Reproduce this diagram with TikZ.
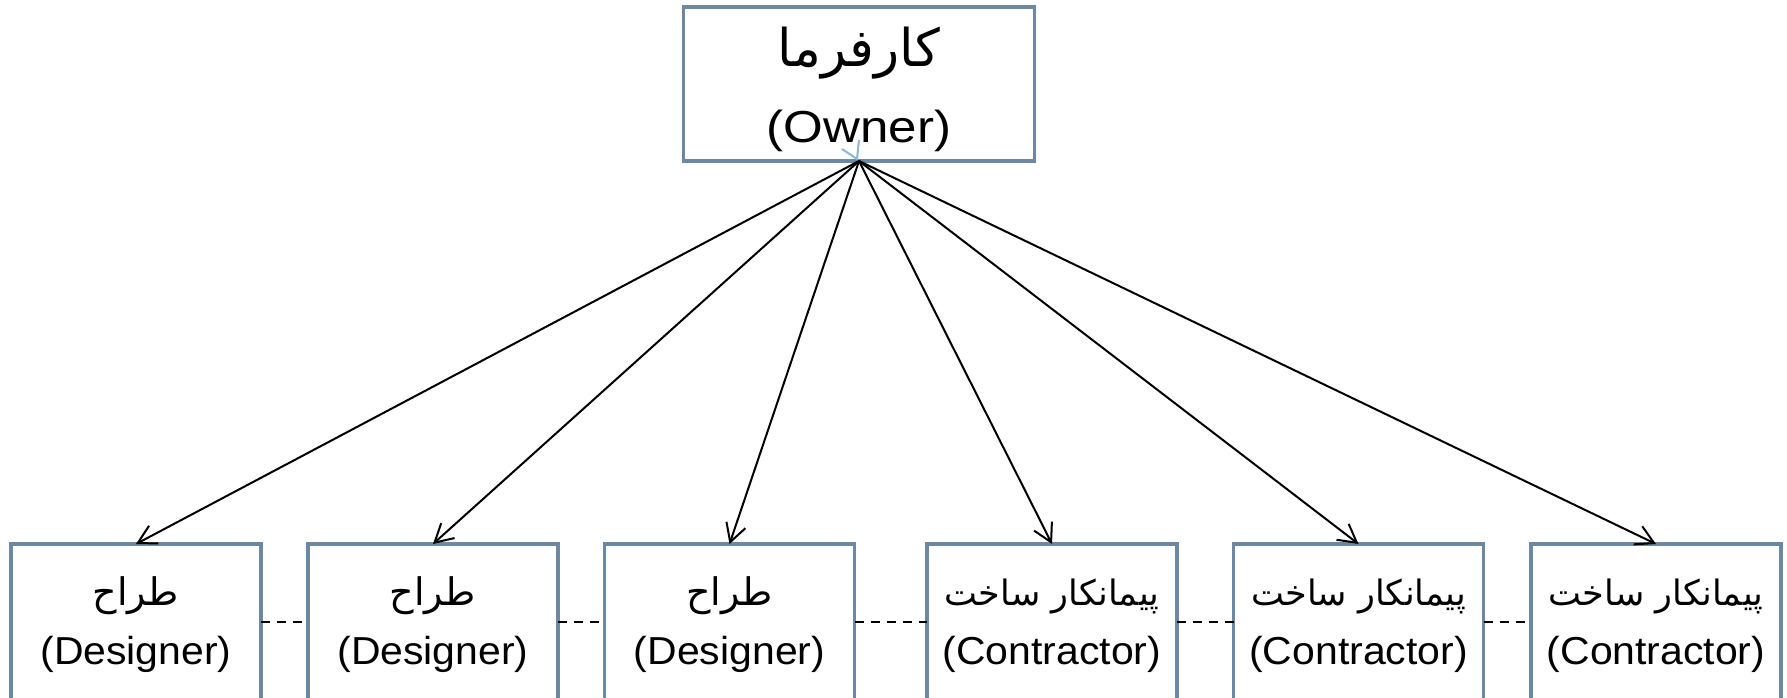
\documentclass[tikz,border=0pt]{standalone}
\usepackage{fontspec}
\usetikzlibrary{arrows.meta}
\setmainfont{Liberation Sans}
\newfontfamily\arabicfont[Script=Arabic]{DejaVu Sans}
\newfontfamily\ownerlatin[FakeStretch=1.14]{Liberation Sans}
\newfontfamily\rolelatin[FakeStretch=1.05]{Liberation Sans}
\TeXXeTstate=1
\definecolor{boxline}{RGB}{108,136,162}
\definecolor{tickblue}{RGB}{140,182,214}

\begin{document}
\begin{tikzpicture}[x=0.5pt,y=-0.5pt,
  rolebox/.style={draw=boxline,line width=1.75pt,minimum width=125pt,
    minimum height=78pt,inner sep=0pt,outer sep=0pt},
  ownerbox/.style={rolebox,minimum width=175.5pt,minimum height=77pt},
  fatext/.style={font=\arabicfont\fontsize{#1}{#1}\selectfont,anchor=base,inner sep=0pt},
  fatext/.default=19,
  entext/.style={font=\rolelatin\fontsize{19.5}{23}\selectfont,anchor=base,inner sep=0pt},
  link/.style={line width=1pt,-{Straight Barb[length=9pt,width=10pt]}},
  peer/.style={line width=1pt,dash pattern=on 4.5pt off 3.5pt}
]
\clip (0,0) rectangle (1787,697);
\fill[white] (0,0) rectangle (1787,697);

% owner box
\node[ownerbox] (own) at (859,84) {};
\node[fatext=26] (ownfa) at (859,66) {\beginR کارفرما\endR};
\node[entext,font=\ownerlatin\fontsize{22.4}{27}\selectfont] (ownen) at (859,142) {(Owner)};

% small tip left on the owner box
\coordinate (tk) at (857,159);
\coordinate (tka) at (859,140);
\coordinate (tkb) at (842,149);
\draw[tickblue,line width=1pt] (tka) -- (tk) -- (tkb);

% designers and contractors
\foreach \n/\x/\sz/\fa/\en in {
  1/136/19/طراح/Designer,
  2/433/19/طراح/Designer,
  3/729.5/19/طراح/Designer,
  4/1052/17.5/پیمانکار ساخت/Contractor,
  5/1358.5/17.5/پیمانکار ساخت/Contractor,
  6/1656/17.5/پیمانکار ساخت/Contractor}{
  \node[rolebox] (b\n) at (\x,622) {};
  \node[fatext=\sz] (f\n) at (\x,605) {\beginR\fa\endR};
  \node[entext] (e\n) at (\x,664) {(\en)};
}

% contract links from the owner
\foreach \n in {1,...,6}{
  \draw[link] (own.south) -- (b\n.north);
}

% dashed links between neighbours
\draw[peer] (b1.east) -- (b2.west);
\draw[peer] (b2.east) -- (b3.west);
\draw[peer] (b3.east) -- (b4.west);
\draw[peer] (b4.east) -- (b5.west);
\draw[peer] (b5.east) -- (b6.west);
\end{tikzpicture}
\end{document}
